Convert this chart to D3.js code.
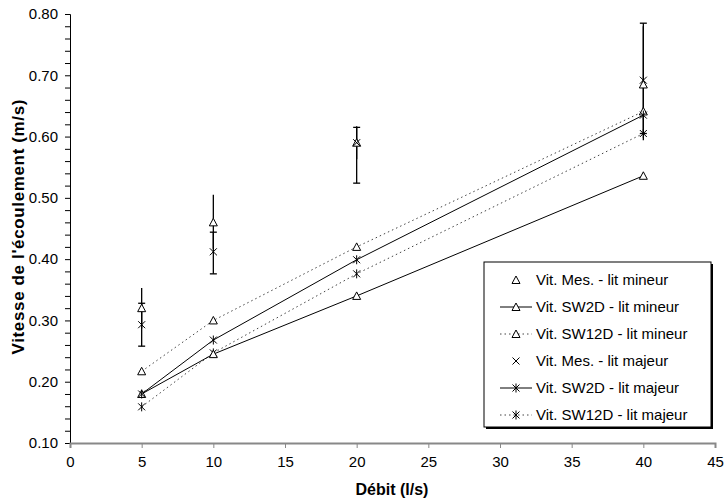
<!DOCTYPE html>
<html><head><meta charset="utf-8">
<script src="https://cdn.jsdelivr.net/npm/d3@7/dist/d3.min.js"></script>
<style>body{margin:0;background:#fff}svg{display:block;font-family:"Liberation Sans",Arial,sans-serif}</style>
</head><body><svg id="c" width="725" height="499"></svg>
<script>
const debits = [5, 10, 20, 40];
const xTicks = [0, 5, 10, 15, 20, 25, 30, 35, 40, 45];
const yTicks = [0.10, 0.20, 0.30, 0.40, 0.50, 0.60, 0.70, 0.80];
const mesMineur = [0.32, 0.46, 0.59, 0.685];
const mesMineurLow = [0.287, 0.417, 0.563, 0.594];
const mesMineurHigh = [0.353, 0.505, 0.617, 0.78];
const mesMajeur = [0.293, 0.412, 0.59, 0.692];
const mesMajeurLow = [0.258, 0.376, 0.524, 0.605];
const mesMajeurHigh = [0.328, 0.444, 0.615, 0.785];
const sw2dMineur = [0.18, 0.245, 0.34, 0.536];
const sw12dMineur = [0.217, 0.30, 0.42, 0.641];
const sw2dMajeur = [0.18, 0.268, 0.399, 0.635];
const sw12dMajeur = [0.159, 0.247, 0.376, 0.605];
const legendLabels = ["Vit. Mes. - lit mineur","Vit. SW2D - lit mineur","Vit. SW12D - lit mineur","Vit. Mes. - lit majeur","Vit. SW2D - lit majeur","Vit. SW12D - lit majeur"];

const svg = d3.select("#c");
const x = d3.scaleLinear().domain([0,45]).range([70,715]);
const y = d3.scaleLinear().domain([0.1,0.8]).range([443,14]);

function marker(g, type, cx, cy){
  if(type==="tri"){
    g.append("path").attr("d",`M${cx},${cy-4}L${cx+4},${cy+3.5}L${cx-4},${cy+3.5}Z`)
      .attr("fill","#fff").attr("stroke","#000").attr("stroke-width",1);
  } else {
    const s=3.5;
    let d=`M${cx-s},${cy-s}L${cx+s},${cy+s}M${cx-s},${cy+s}L${cx+s},${cy-s}`;
    if(type==="star") d+=`M${cx},${cy-4.5}L${cx},${cy+4.5}`;
    g.append("path").attr("d",d).attr("stroke","#000").attr("stroke-width",1).attr("fill","none");
  }
}

// Y axis (minor ticks every 0.02, labels on yTicks)
const yAxis = d3.axisLeft(y).tickValues(d3.range(0.1,0.8001,0.02)).tickSize(5).tickFormat(d=>{
  const hit = yTicks.some(t=>Math.abs(t-d)<1e-6);
  return hit ? d3.format(".2f")(d) : "";
});
const gy = svg.append("g").attr("transform","translate(70,0)").call(yAxis);
gy.select(".domain").attr("stroke","#000");
gy.selectAll(".tick line").attr("stroke","#000");
gy.selectAll("text").attr("font-size",15).attr("fill","#000").attr("x",-12).attr("font-family","Liberation Sans, Arial");

// X axis
const xAxis = d3.axisBottom(x).tickValues(xTicks).tickSize(5).tickPadding(8).tickFormat(d3.format("d"));
const gx = svg.append("g").attr("transform","translate(0,443)").call(xAxis);
gx.select(".domain").attr("stroke","#888").attr("stroke-width",2);
gx.selectAll(".tick line").attr("stroke","#888");
gx.selectAll("text").attr("font-size",15).attr("fill","#000").attr("font-family","Liberation Sans, Arial");

// titles
svg.append("text").attr("x",392).attr("y",495).attr("text-anchor","middle").attr("font-weight","bold").attr("font-size",16).text("Débit (l/s)");
svg.append("text").attr("transform","translate(24,227) rotate(-90)").attr("text-anchor","middle").attr("font-weight","bold").attr("font-size",17)
  .attr("textLength",255).attr("lengthAdjust","spacing").text("Vitesse de l'écoulement (m/s)");

const plot = svg.append("g");
const line = d3.line().x((d,i)=>x(debits[i])).y(d=>y(d));

const models = [
  {v:sw12dMineur, dash:true, m:"tri"},
  {v:sw12dMajeur, dash:true, m:"star"},
  {v:sw2dMineur, dash:false, m:"tri"},
  {v:sw2dMajeur, dash:false, m:"star"}
];
models.forEach(s=>{
  plot.append("path").datum(s.v).attr("d",line).attr("fill","none")
    .attr("stroke", s.dash?"#444":"#000").attr("stroke-width",1)
    .attr("stroke-dasharray", s.dash?"1.5,3":null);
});

function errBars(low, high, caps){
  debits.forEach((d,i)=>{
    const cx=x(d);
    plot.append("line").attr("x1",cx).attr("x2",cx).attr("y1",y(low[i])).attr("y2",y(high[i])).attr("stroke","#000").attr("stroke-width",1.3);
    if(caps){
      [low[i],high[i]].forEach(v=>plot.append("line").attr("x1",cx-3.5).attr("x2",cx+3.5).attr("y1",y(v)).attr("y2",y(v)).attr("stroke","#000").attr("stroke-width",1.3));
    }
  });
}
errBars(mesMineurLow, mesMineurHigh, false);
errBars(mesMajeurLow, mesMajeurHigh, true);

models.forEach(s=>s.v.forEach((v,i)=>marker(plot,s.m,x(debits[i]),y(v))));
mesMineur.forEach((v,i)=>marker(plot,"tri",x(debits[i]),y(v)));
mesMajeur.forEach((v,i)=>marker(plot,"x",x(debits[i]),y(v)));

// legend
const lg = svg.append("g");
lg.append("rect").attr("x",486).attr("y",264).attr("width",227).attr("height",165).attr("fill","#000");
lg.append("rect").attr("x",484).attr("y",262).attr("width",227).attr("height",165).attr("fill","#fff").attr("stroke","#000").attr("stroke-width",1);
const legendStyle = [
  {line:null,m:"tri"},{line:"solid",m:"tri"},{line:"dot",m:"tri"},
  {line:null,m:"x"},{line:"solid",m:"star"},{line:"dot",m:"star"}
];
legendLabels.forEach((lab,i)=>{
  const yy = 280 + i*27;
  const st = legendStyle[i];
  if(st.line){
    lg.append("line").attr("x1",500).attr("x2",532).attr("y1",yy).attr("y2",yy)
      .attr("stroke", st.line==="dot"?"#444":"#000").attr("stroke-dasharray", st.line==="dot"?"1.5,3":null);
  }
  marker(lg, st.m, 516, yy);
  lg.append("text").attr("x",536).attr("y",yy+5).attr("font-size",15).text(lab);
});
</script></body></html>
